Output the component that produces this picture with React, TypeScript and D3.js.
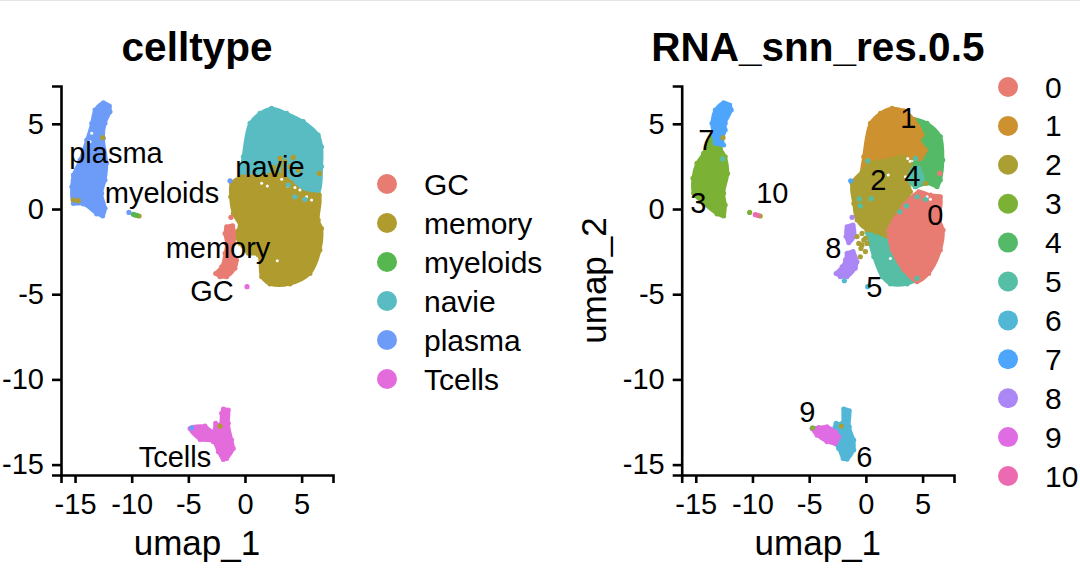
import { useEffect, useRef } from 'react';
import * as d3 from 'd3';

type Pt = [number, number];

const xTicks = [-15, -10, -5, 0, 5];
const yTicks = [-15, -10, -5, 0, 5];
const xExtent: Pt = [-16.24, 7.77];
const yExtent: Pt = [-15.61, 7.22];

// cell type clusters, outlines (umap_1, umap_2)
const cellPlasma: Pt[] = [[-12.5, 6.24], [-11.97, 6.05], [-11.91, 5.71], [-12.35, 5.03], [-12.5, 4.15], [-12.21, 2.68], [-12.35, 1.7], [-12.65, 0.92], [-12.35, 0.04], [-12.56, -0.41], [-13.09, -0.29], [-14.26, 0.29], [-15.15, 0.33], [-15.29, 1.31], [-15.15, 2.0], [-14.56, 2.88], [-13.97, 4.05], [-13.53, 5.03], [-13.24, 5.81]];
const cellNavie: Pt[] = [[-0.29, 1.9], [-0.15, 3.07], [0.44, 5.03], [1.32, 5.62], [2.35, 5.91], [3.68, 5.62], [5.15, 5.13], [6.47, 4.34], [6.76, 3.66], [6.76, 2.49], [6.47, 0.92], [5.44, 0.72], [3.38, 1.7], [1.62, 1.9]];
const cellMemory: Pt[] = [[-1.18, 1.51], [-0.29, 1.9], [1.62, 1.94], [2.5, 2.09], [3.38, 2.0], [4.12, 1.51], [5.44, 0.92], [6.56, 0.82], [6.47, -0.65], [6.76, -1.14], [6.62, -2.41], [5.74, -3.78], [3.97, -4.4], [2.21, -4.4], [1.47, -3.97], [1.18, -2.7], [0.29, -2.6], [-0.44, -2.02], [-0.88, -1.43], [-0.44, -1.04], [-1.03, -0.25], [-1.26, 0.72]];
const cellGC: Pt[] = [[-1.62, -1.04], [-1.09, -0.98], [-0.97, -2.02], [-1.26, -2.6], [-0.74, -2.99], [-0.88, -3.48], [-1.62, -3.97], [-2.21, -3.97], [-2.59, -3.78], [-2.06, -3.39], [-1.76, -2.6], [-1.62, -2.02], [-1.76, -1.43]];
const cellTcells: Pt[] = [[-1.91, -11.74], [-1.47, -11.8], [-1.47, -12.58], [-1.18, -13.56], [-1.03, -14.05], [-1.62, -14.64], [-1.91, -14.7], [-2.35, -14.25], [-2.79, -13.66], [-3.97, -13.52], [-4.85, -12.88], [-3.53, -12.74], [-2.79, -13.07], [-2.59, -12.58], [-2.21, -12.68], [-2.06, -11.99]];

const cellGCDots: Pt[] = [[-1.24, -0.49]];
const cellMemoryDots: Pt[] = [[-12.56, 4.19], [-14.71, 0.49], [6.56, 2.09], [3.09, 2.97], [4.26, 3.03], [-9.35, -0.41], [-15.15, 0.53], [-2.21, -12.74], [2.5, 2.45], [3.09, 2.58], [3.53, 2.78], [3.97, 2.49], [2.79, 2.19], [4.71, 2.29], [3.38, 2.29]];
const cellMyeloidDots: Pt[] = [[-9.85, -0.31], [-9.71, -0.35], [-9.56, -0.37]];
const cellNavieDots: Pt[] = [[4.41, 0.72], [5.29, 0.57], [3.82, 1.41]];
const cellPlasmaDots: Pt[] = [[-10.24, -0.2], [-1.32, 1.66], [-4.71, -12.84]];
const cellTcellDots: Pt[] = [[0.18, -4.56]];
const cellGaps: Pt[] = [[1.47, 1.51], [1.97, 1.35], [3.24, 1.74], [3.74, 1.35], [4.41, 1.27], [4.85, 1.12], [5.44, 0.72], [5.88, 0.53], [2.85, -3.03], [-13.53, 4.44], [-13.68, 3.95]];

// seurat clusters, outlines
const res0: Pt[] = [[4.66, 1.02], [5.69, 0.82], [6.57, 0.72], [6.51, -0.65], [6.81, -1.23], [6.57, -2.41], [5.54, -3.78], [4.51, -4.27], [3.34, -3.58], [2.31, -2.41], [2.01, -1.23], [2.46, -0.65], [3.34, 0.23]];
const res1: Pt[] = [[2.31, 5.91], [3.34, 5.77], [4.22, 5.26], [4.96, 4.34], [4.66, 4.05], [5.25, 3.46], [4.81, 2.97], [3.34, 2.97], [1.87, 2.68], [0.4, 2.68], [-0.34, 2.09], [-0.19, 3.07], [0.4, 5.03], [1.28, 5.62]];
const res2: Pt[] = [[-1.22, 1.51], [-0.34, 2.19], [0.4, 2.68], [1.87, 2.88], [3.34, 3.07], [3.93, 2.68], [3.49, 1.9], [3.93, 1.02], [3.34, 0.33], [2.31, -0.65], [2.01, -1.62], [0.84, -1.33], [0.1, -1.23], [-0.78, -0.65], [-1.07, 0.33]];
const res3: Pt[] = [[-13.57, 4.25], [-13.28, 3.86], [-12.84, 3.56], [-12.4, 3.07], [-12.19, 2.09], [-12.54, 0.92], [-12.4, 0.23], [-12.54, -0.41], [-13.13, -0.29], [-14.31, 0.33], [-15.19, 0.92], [-15.25, 1.8], [-14.9, 2.68], [-14.31, 3.27], [-13.96, 3.86]];
const res4: Pt[] = [[4.22, 5.26], [5.4, 5.03], [6.57, 4.25], [6.78, 2.88], [6.57, 1.7], [6.28, 1.31], [5.4, 1.51], [4.37, 1.31], [3.78, 1.7], [3.63, 2.29], [4.51, 2.88], [5.25, 3.46], [4.66, 4.05], [4.96, 4.34]];
const res5: Pt[] = [[0.1, -1.33], [0.84, -1.43], [1.87, -1.82], [2.46, -2.41], [3.34, -3.48], [4.37, -4.17], [3.63, -4.4], [2.16, -4.4], [1.43, -3.97], [0.69, -2.8], [0.34, -2.02]];
const res5Patch: Pt[] = [[3.63, 2.29], [4.66, 2.39], [5.01, 1.7], [4.37, 1.31], [3.78, 1.7]];
const res6: Pt[] = [[-1.96, -11.74], [-1.46, -11.84], [-1.46, -12.78], [-1.07, -13.56], [-1.07, -14.15], [-1.66, -14.68], [-2.01, -14.64], [-2.4, -14.05], [-2.69, -13.76], [-2.4, -13.37], [-2.84, -13.07], [-2.63, -12.58], [-2.1, -12.58]];
const res7: Pt[] = [[-12.54, 6.24], [-12.01, 6.11], [-11.87, 5.81], [-12.4, 5.03], [-12.4, 4.64], [-12.69, 3.95], [-12.54, 3.76], [-13.28, 3.86], [-13.43, 4.34], [-13.57, 5.03], [-13.28, 5.81]];
const res8Upper: Pt[] = [[-1.66, -1.04], [-1.13, -0.94], [-1.01, -1.62], [-1.51, -1.98], [-1.75, -1.62]];
const res8Lower: Pt[] = [[-1.66, -2.6], [-1.13, -2.5], [-0.78, -3.09], [-0.93, -3.48], [-1.66, -3.97], [-2.25, -3.97], [-2.63, -3.78], [-2.1, -3.39], [-1.81, -2.99]];
const res9: Pt[] = [[-4.75, -12.88], [-4.16, -12.82], [-3.43, -12.78], [-2.69, -13.07], [-2.4, -13.37], [-2.69, -13.76], [-3.43, -13.66], [-4.31, -13.27]];

const res0Dots: Pt[] = [[6.51, 2.09]];
const res2Dots: Pt[] = [[-0.34, -1.43], [-0.04, -1.72], [-0.78, -1.62], [-0.63, -2.02], [0.1, -2.02], [-0.43, -2.31], [-0.04, -2.5], [-0.49, -2.8], [-0.19, -1.82], [-0.34, -2.11], [5.25, 1.51], [-12.6, 4.19], [-9.32, -0.41], [-2.16, -12.74]];
const res3Dots: Pt[] = [[-10.25, -0.2], [-4.69, -12.84]];
const res5Dots: Pt[] = [[0.16, 2.82], [-0.57, 0.59], [0.46, 0.61], [-0.49, 0.18], [4.37, 2.97], [2.99, -0.16], [3.57, 0.18], [4.51, 0.72], [5.25, 0.57], [4.51, -4.07], [-12.63, 2.94]];
const res6Dots: Pt[] = [[-1.9, -4.21], [0.16, -4.56]];
const res7Dots: Pt[] = [[-1.34, 1.66]];
const res8Dots: Pt[] = [[-1.22, -0.49]];
const res10Dots: Pt[] = [[-9.75, -0.33], [-9.54, -0.37]];
const resGaps: Pt[] = [[3.69, 2.97], [3.9, 2.8], [3.49, 1.9], [1.97, 2.0], [5.4, 0.72], [5.69, 0.57], [2.16, -2.9]];

const cellNames = ['GC', 'memory', 'myeloids', 'navie', 'plasma', 'Tcells'];
const cellColors = ['#e87c72', '#b09b2f', '#55b74e', '#58bcc2', '#6d9cf8', '#e36bdb'];
const resNames = ['0', '1', '2', '3', '4', '5', '6', '7', '8', '9', '10'];
const resColors = ['#e87c72', '#cd9130', '#ab9f33', '#7bb134', '#55ba67', '#56bea5', '#52b7d6', '#4da6fb', '#ab86f5', '#e06ce3', '#ec6ab2'];

const cellLabels: [string, number, number][] = [['plasma', -11.39, 3.29], ['myeloids', -7.33, 0.94], ['navie', 2.21, 2.46], ['memory', -2.38, -2.29], ['GC', -2.91, -4.81], ['Tcells', -6.18, -14.55]];
const resLabels: [string, number, number][] = [['1', 3.75, 5.34], ['7', -14.08, 4.05], ['2', 1.1, 1.7], ['4', 4.1, 1.94], ['0', 6.13, -0.35], ['3', -14.78, 0.35], ['10', -8.25, 0.94], ['8', -2.87, -2.29], ['5', 0.75, -4.58], ['9', -5.16, -11.91], ['6', -0.13, -14.55]];

interface PanelSpec {
  title: string;
  left: number;
  right: number;
  yTitle: boolean;
  blobs: [Pt[], string][];
  dots: [Pt[], string][];
  gaps: Pt[];
  labels: [string, number, number][];
  names: string[];
  colors: string[];
  legendX: number;
  legendTop: number;
  legendStep: number;
}

const panels: PanelSpec[] = [
  {
    title: 'celltype',
    left: 61,
    right: 333,
    yTitle: false,
    blobs: [
      [cellNavie, cellColors[3]],
      [cellMemory, cellColors[1]],
      [cellGC, cellColors[0]],
      [cellPlasma, cellColors[4]],
      [cellTcells, cellColors[5]],
    ],
    dots: [
      [cellNavieDots, cellColors[3]],
      [cellMemoryDots, cellColors[1]],
      [cellGCDots, cellColors[0]],
      [cellMyeloidDots, cellColors[2]],
      [cellPlasmaDots, cellColors[4]],
      [cellTcellDots, cellColors[5]],
    ],
    gaps: cellGaps,
    labels: cellLabels,
    names: cellNames,
    colors: cellColors,
    legendX: 387,
    legendTop: 184,
    legendStep: 39,
  },
  {
    title: 'RNA_snn_res.0.5',
    left: 681.7,
    right: 954,
    yTitle: true,
    blobs: [
      [res4, resColors[4]],
      [res1, resColors[1]],
      [res5, resColors[5]],
      [res5Patch, resColors[5]],
      [res2, resColors[2]],
      [res0, resColors[0]],
      [res3, resColors[3]],
      [res7, resColors[7]],
      [res8Upper, resColors[8]],
      [res8Lower, resColors[8]],
      [res6, resColors[6]],
      [res9, resColors[9]],
    ],
    dots: [
      [res0Dots, resColors[0]],
      [res2Dots, resColors[2]],
      [res3Dots, resColors[3]],
      [res5Dots, resColors[5]],
      [res6Dots, resColors[6]],
      [res7Dots, resColors[7]],
      [res8Dots, resColors[8]],
      [res10Dots, resColors[10]],
    ],
    gaps: resGaps,
    labels: resLabels,
    names: resNames,
    colors: resColors,
    legendX: 1008,
    legendTop: 87,
    legendStep: 38.9,
  },
];

export default function App() {
  const svgRef = useRef<SVGSVGElement>(null);

  useEffect(() => {
    if (!svgRef.current) return;
    const svg = d3.select(svgRef.current);
    svg.selectAll('*').remove();

    const top = 86;
    const bottom = 475;
    const font = '"Liberation Sans", Arial, sans-serif';

    // thin grey rule along the top edge of the picture
    svg.append('rect').attr('width', 1080).attr('height', 1).attr('fill', '#e5e5e5');

    panels.forEach((p) => {
      const x = d3.scaleLinear().domain(xExtent).range([p.left, p.right]);
      const y = d3.scaleLinear().domain(yExtent).range([bottom, top]);
      const g = svg.append('g').style('font-family', font);

      const outline = d3
        .line<Pt>()
        .x((d) => x(d[0]))
        .y((d) => y(d[1]))
        .curve(d3.curveCatmullRomClosed.alpha(0.5));

      p.blobs.forEach(([pts, color]) => {
        g.append('path')
          .datum(pts)
          .attr('d', outline)
          .attr('fill', color)
          .attr('stroke', color)
          .attr('stroke-width', 3)
          .attr('stroke-linejoin', 'round');
        // single cells along the edge keep the rim from looking too clean
        g.append('g')
          .selectAll('circle')
          .data(pts)
          .join('circle')
          .attr('cx', (d) => x(d[0]))
          .attr('cy', (d) => y(d[1]))
          .attr('r', 2.5)
          .attr('fill', color);
      });

      g.append('g')
        .selectAll('circle')
        .data(p.gaps)
        .join('circle')
        .attr('cx', (d) => x(d[0]))
        .attr('cy', (d) => y(d[1]))
        .attr('r', 1.5)
        .attr('fill', '#fff');

      p.dots.forEach(([pts, color]) => {
        g.append('g')
          .selectAll('circle')
          .data(pts)
          .join('circle')
          .attr('cx', (d) => x(d[0]))
          .attr('cy', (d) => y(d[1]))
          .attr('r', 2.6)
          .attr('fill', color);
      });

      const xAxis = g
        .append('g')
        .attr('transform', `translate(0,${bottom})`)
        .call(d3.axisBottom(x).tickValues(xTicks).tickSizeOuter(0).tickSize(8).tickPadding(10).tickFormat(d3.format('d')));
      const yAxis = g
        .append('g')
        .attr('transform', `translate(${p.left},0)`)
        .call(d3.axisLeft(y).tickValues(yTicks).tickSizeOuter(0).tickSize(9).tickPadding(8).tickFormat(d3.format('d')));

      [xAxis, yAxis].forEach((axis) => {
        axis.selectAll('path, line').attr('stroke', '#000').attr('stroke-width', 2.6);
        axis
          .selectAll('text')
          .attr('fill', '#000')
          .style('font-family', font)
          .style('font-size', '29px')
          .text((d) => String(d).replace('\u2212', '-'));
      });

      g.append('g')
        .selectAll('text')
        .data(p.labels)
        .join('text')
        .attr('x', (d) => x(d[1]))
        .attr('y', (d) => y(d[2]))
        .attr('text-anchor', 'middle')
        .attr('dominant-baseline', 'central')
        .style('font-size', '29px')
        .text((d) => d[0]);

      const centre = (p.left + p.right) / 2;
      g.append('text')
        .attr('x', centre)
        .attr('y', 61)
        .attr('text-anchor', 'middle')
        .style('font-size', '40.5px')
        .style('font-weight', 'bold')
        .text(p.title);

      g.append('text')
        .attr('x', centre)
        .attr('y', 555)
        .attr('text-anchor', 'middle')
        .style('font-size', '35px')
        .text('umap_1');

      if (p.yTitle) {
        g.append('text')
          .attr('transform', `translate(606,${(top + bottom) / 2}) rotate(-90)`)
          .attr('text-anchor', 'middle')
          .style('font-size', '35px')
          .text('umap_2');
      }

      const legend = g
        .append('g')
        .selectAll('g')
        .data(p.names)
        .join('g')
        .attr('transform', (_, i) => `translate(${p.legendX},${p.legendTop + i * p.legendStep})`);
      legend
        .append('circle')
        .attr('r', 10)
        .attr('fill', (_, i) => p.colors[i]);
      legend
        .append('text')
        .attr('x', 37)
        .attr('dominant-baseline', 'central')
        .style('font-size', '30px')
        .text((d) => d);
    });
  }, []);

  return (
    <svg
      ref={svgRef}
      width={1080}
      height={576}
      style={{ position: 'absolute', left: 0, top: 0, background: '#fff' }}
    />
  );
}
